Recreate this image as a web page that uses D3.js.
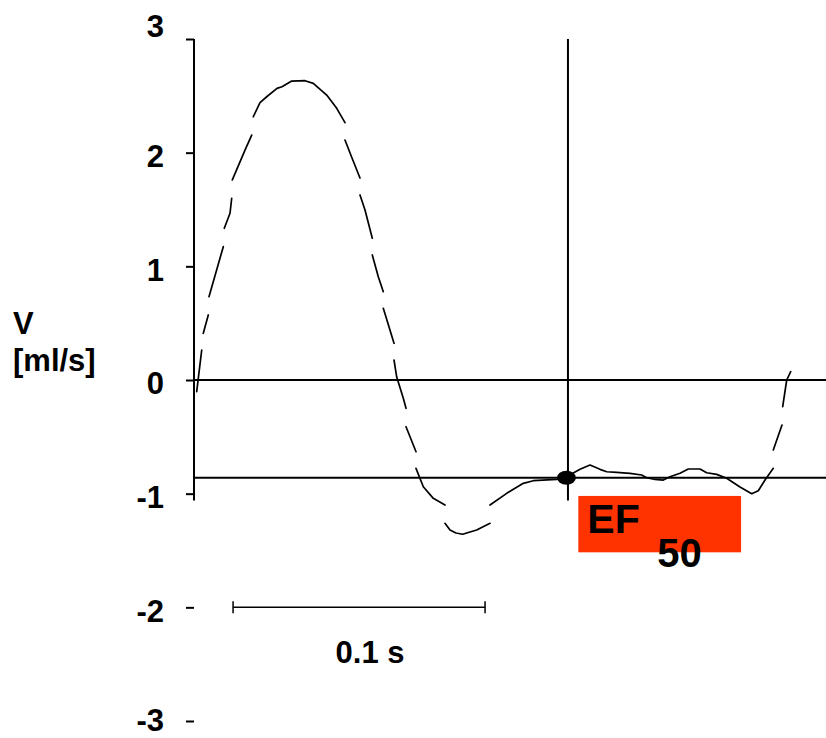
<!DOCTYPE html>
<html>
<head>
<meta charset="utf-8">
<script src="https://cdn.jsdelivr.net/npm/d3@7"></script>
<style>
  html, body { margin: 0; padding: 0; background: #fff; }
  svg { display: block; }
  text { font-family: "Liberation Sans", Arial, sans-serif; font-weight: bold; fill: #000; }
</style>
</head>
<body>
<svg id="chart" width="826" height="738"></svg>
<script>
// ---------- data ----------
// y-axis tick values / labels
const yTicks = [3, 2, 1, 0, -1, -2, -3];
const yTickLabels = ["3", "2", "1", "0", "-1", "-2", "-3"];
// flow trace: [time (ms), V (ml/s)]; null = pen lift between strokes
const trace = [
  [1.07, -0.103], [3.06, 0.264], null,
  [3.69, 0.411], [5.67, 0.572], null,
  [5.95, 0.733], [11.63, 1.173], null,
  [12.02, 1.335], [14.29, 1.467], [14.96, 1.599], null,
  [15.20, 1.760], [20.24, 2.023], [22.90, 2.155], null,
  [23.53, 2.316], [26.19, 2.441], [28.85, 2.492], [32.94, 2.566], [34.92, 2.580],
  [38.77, 2.630], [44.05, 2.633], [47.34, 2.610], [52.66, 2.507], [56.63, 2.390],
  [59.92, 2.264], null,
  [59.92, 2.111], [62.70, 1.953], [65.87, 1.777], null,
  [65.87, 1.628], [67.86, 1.496], [70.75, 1.247], null,
  [70.75, 1.100], [73.13, 0.909], [75.12, 0.777], null,
  [75.12, 0.631], [79.37, 0.323], null,
  [79.37, 0.176], [80.44, 0.026], [83.06, -0.161], [84.13, -0.249], null,
  [84.13, -0.411], [88.10, -0.631], null,
  [88.10, -0.777], [90.99, -0.939], [94.96, -1.041], [99.60, -1.100], null,
  [99.60, -1.261], [101.59, -1.320], [103.97, -1.346], [106.63, -1.357],
  [109.52, -1.337], [112.18, -1.320], [117.46, -1.261], null,
  [117.46, -1.100], [124.09, -0.997], [130.67, -0.909], [134.64, -0.886],
  [143.93, -0.874], [147.90, -0.851], [153.17, -0.786], [157.14, -0.748],
  [161.11, -0.786], [163.77, -0.807], [167.74, -0.812], [173.02, -0.821],
  [177.66, -0.836], [179.64, -0.860], [182.94, -0.875], [186.23, -0.880],
  [188.89, -0.851], [192.86, -0.821], [196.15, -0.783], [200.79, -0.783],
  [203.45, -0.816], [207.42, -0.830], [211.39, -0.865], [216.67, -0.941],
  [221.31, -1.000], [223.93, -0.974], [226.59, -0.880], [229.88, -0.777], null,
  [229.88, -0.616], [233.33, -0.396], null,
  [233.61, -0.235], [235.20, 0.000], [236.79, 0.073]
];
// horizontal reference levels (ml/s)
const refLevels = [0, -0.86];
// EF50 marker time (ms) and point
const markerTime = 148.4;
const efPoint = [147.8, -0.86];
// axis line extent (ml/s)
const axisTop = 3, axisBottom = -1.06;
// time scale bar (ms)
const scaleBar = [15.5, 115.5];
const scaleBarLevel = -2;
const scaleBarLabel = "0.1 s";
// EF50 box extent [t0, t1] ms, [v0, v1] ml/s
const efBoxT = [152.5, 217.1];
const efBoxV = [-1.02, -1.516];
const yLabelLines = ["V", "[ml/s]"];

// ---------- scales ----------
const svg = d3.select("#chart");
const x = d3.scaleLinear().domain([0, 250]).range([194, 824]);
const y = d3.scaleLinear().domain([-3, 3]).range([721, 39]);
const FS = "31px";

// EF box (behind everything)
svg.append("rect")
  .attr("x", x(efBoxT[0])).attr("y", y(efBoxV[0]))
  .attr("width", x(efBoxT[1]) - x(efBoxT[0]))
  .attr("height", y(efBoxV[1]) - y(efBoxV[0]))
  .attr("fill", "#ff3300");
svg.append("text").attr("x", x(efBoxT[0]) + 9).attr("y", y(efBoxV[0]) + 37)
  .style("font-size", "41px").text("EF");
svg.append("text").attr("x", x(efBoxT[0]) + 79).attr("y", y(efBoxV[0]) + 71)
  .style("font-size", "40px").text("50");

// y axis (ticks + labels)
const axis = d3.axisLeft(y).tickValues(yTicks).tickSize(8).tickPadding(0)
  .tickFormat((d, i) => yTickLabels[i]);
const gAxis = svg.append("g").attr("transform", `translate(${x(0)},0)`).call(axis);
gAxis.select(".domain").remove();
gAxis.selectAll(".tick line").attr("stroke", "#000").attr("stroke-width", 2);
gAxis.selectAll(".tick text")
  .attr("x", -30).attr("dy", (d) => d === 3 ? "-0.08em" : (d === -3 ? "0.29em" : "0.45em"))
  .attr("font-family", null).attr("font-size", null)
  .style("font-size", FS).style("font-family", '"Liberation Sans", Arial, sans-serif')
  .style("font-weight", "bold").attr("fill", "#000");

// axis line
svg.append("line")
  .attr("x1", x(0)).attr("x2", x(0))
  .attr("y1", y(axisTop)).attr("y2", y(axisBottom))
  .attr("stroke", "#000").attr("stroke-width", 2);

// reference lines
svg.selectAll(".ref").data(refLevels).enter().append("line")
  .attr("x1", x(0)).attr("x2", 826)
  .attr("y1", d => y(d)).attr("y2", d => y(d))
  .attr("stroke", "#000").attr("stroke-width", 2);

// EF50 vertical marker
svg.append("line")
  .attr("x1", x(markerTime)).attr("x2", x(markerTime))
  .attr("y1", y(axisTop)).attr("y2", y(axisBottom))
  .attr("stroke", "#000").attr("stroke-width", 2);

// trace
const line = d3.line().defined(d => d !== null).x(d => x(d[0])).y(d => y(d[1]));
svg.append("path").datum(trace)
  .attr("d", line).attr("fill", "none")
  .attr("stroke", "#000").attr("stroke-width", 1.7)
  .attr("stroke-linejoin", "round").attr("stroke-linecap", "round");

// EF50 dot
svg.append("ellipse")
  .attr("cx", x(efPoint[0])).attr("cy", y(efPoint[1]))
  .attr("rx", 9.5).attr("ry", 7).attr("fill", "#000");

// scale bar
const sbY = y(scaleBarLevel);
svg.append("line").attr("x1", x(scaleBar[0])).attr("x2", x(scaleBar[1]))
  .attr("y1", sbY).attr("y2", sbY).attr("stroke", "#000").attr("stroke-width", 1.5);
scaleBar.forEach(t => {
  svg.append("line").attr("x1", x(t)).attr("x2", x(t))
    .attr("y1", sbY - 6).attr("y2", sbY + 6).attr("stroke", "#000").attr("stroke-width", 1.5);
});
svg.append("text").attr("x", (x(scaleBar[0]) + x(scaleBar[1])) / 2 + 11).attr("y", sbY + 56)
  .attr("text-anchor", "middle").style("font-size", FS).text(scaleBarLabel);

// y label
svg.append("text").attr("x", 13).attr("y", 334).style("font-size", FS).text(yLabelLines[0]);
svg.append("text").attr("x", 13).attr("y", 371).style("font-size", FS).text(yLabelLines[1]);
</script>
</body>
</html>
